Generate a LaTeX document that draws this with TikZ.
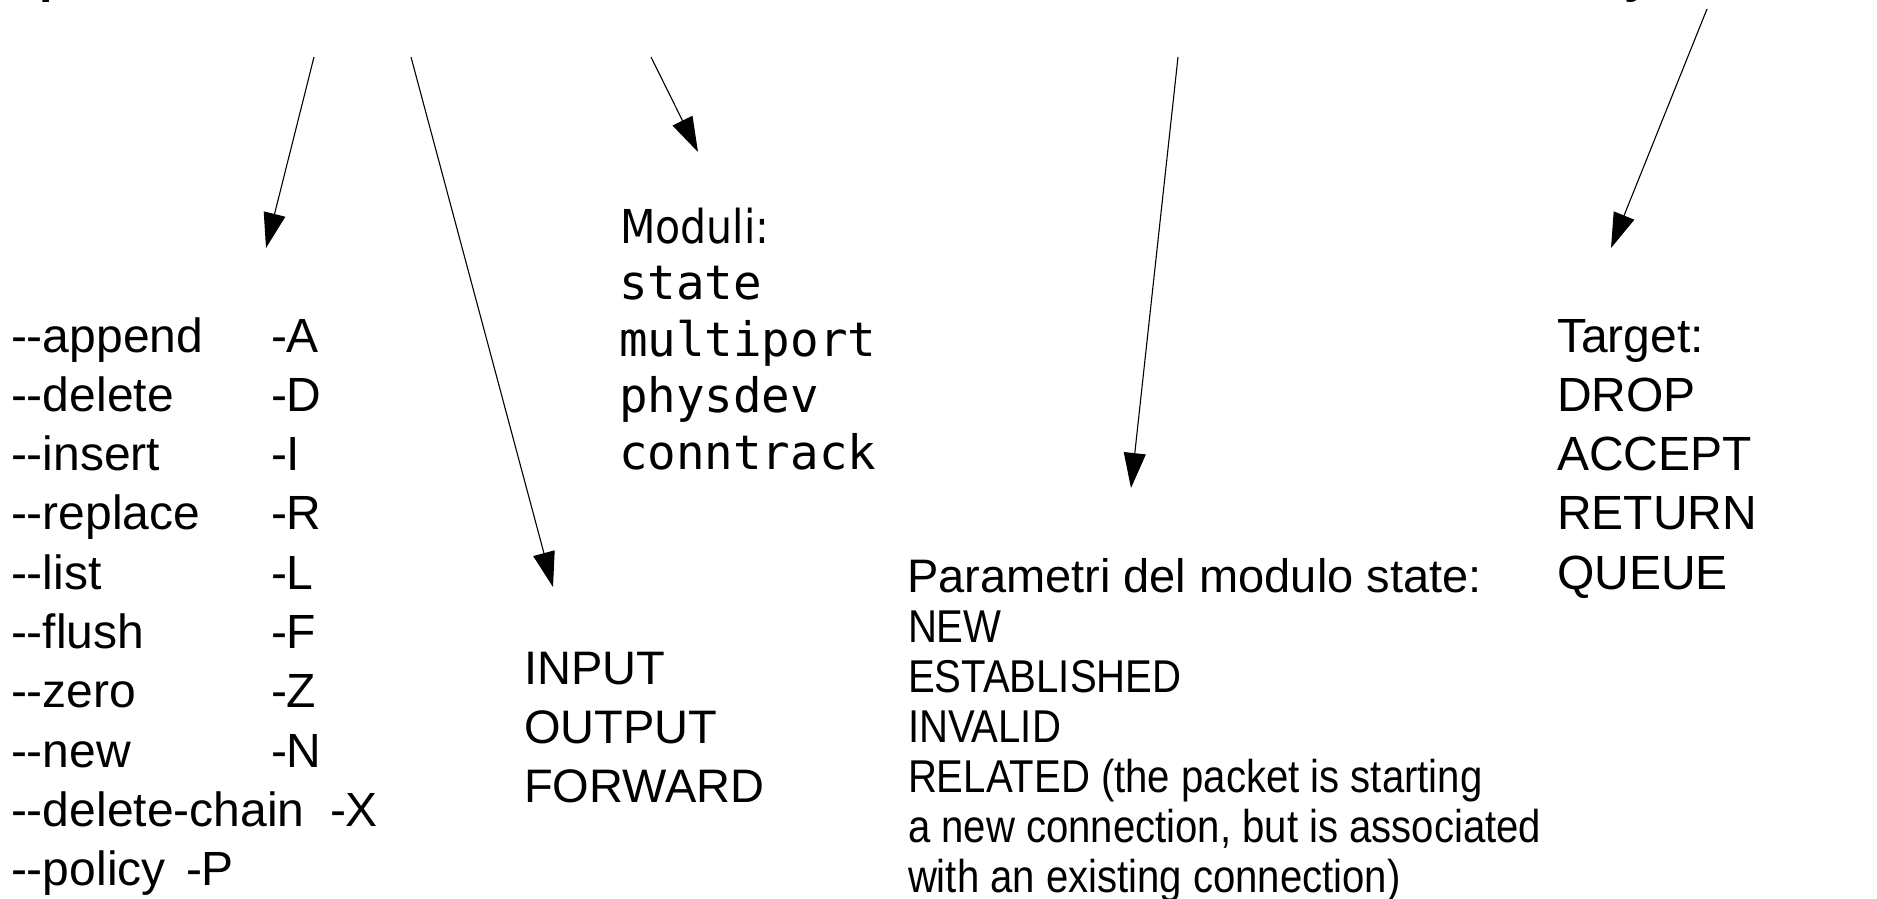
\documentclass[tikz,border=0pt]{standalone}
\usepackage{fontspec}
\setmainfont{Liberation Sans}
\newfontfamily\narrowfont{Liberation Sans}[FakeStretch=0.872]
\newfontfamily\modfont{DejaVu Sans}[FakeStretch=0.88]
\newfontfamily\djmono{DejaVu Sans Mono}
\usetikzlibrary{arrows.meta}
% two hyphens without the en-dash ligature
\newcommand\dd{-\kern0pt-}
\begin{document}
\begin{tikzpicture}[x=1pt,y=-1pt,
  txt/.style={anchor=base west, inner sep=0pt, outer sep=0pt},
  big/.style={txt, font=\fontsize{48}{58}\selectfont},
  mid/.style={txt, font=\fontsize{47}{57}\selectfont},
  small/.style={txt, font=\narrowfont\fontsize{46}{50}\selectfont},
  modhead/.style={txt, font=\modfont\fontsize{46.7}{56}\selectfont},
  modlist/.style={txt, font=\djmono\fontsize{47.5}{56}\selectfont},
  ptr/.style={-{Triangle[length=35pt,width=22pt]}, line width=1.1pt}]
\useasboundingbox (0,0) rectangle (1877,899);
\fill[white] (0,0) rectangle (1877,899);

% heading line above the frame, only its descenders reach the page
\begin{scope}
  \clip (0,0) rectangle (1877,899);
  \node[big, font=\bfseries\fontsize{48}{58}\selectfont] (headp) at (39.5,-7.3) {p};
  \node[big, font=\bfseries\fontsize{48}{58}\selectfont] (heady) at (1624,-7.3) {y};
\end{scope}

% commands: long and short forms
\node[big] (o1)  at (11,352.0) {\dd append};
\node[big] (o2)  at (11,411.3) {\dd delete};
\node[big] (o3)  at (11,470.6) {\dd insert};
\node[big] (o4)  at (11,529.9) {\dd replace};
\node[big] (o5)  at (11,589.2) {\dd list};
\node[big] (o6)  at (11,648.5) {\dd flush};
\node[big] (o7)  at (11,707.8) {\dd zero};
\node[big] (o8)  at (11,767.1) {\dd new};
\node[big] (o9)  at (11,826.4) {\dd delete-chain};
\node[big] (o10) at (11,885.7) {\dd policy};
\node[big] (s1)  at (271,352.0) {-A};
\node[big] (s2)  at (271,411.3) {-D};
\node[big] (s3)  at (271,470.6) {-I};
\node[big] (s4)  at (271,529.9) {-R};
\node[big] (s5)  at (271,589.2) {-L};
\node[big] (s6)  at (271,648.5) {-F};
\node[big] (s7)  at (271,707.8) {-Z};
\node[big] (s8)  at (271,767.1) {-N};
\node[big] (s9)  at (330,826.4) {-X};
\node[big] (s10) at (186,885.7) {-P};

% chains
\node[mid] (c1) at (524,684) {INPUT};
\node[mid] (c2) at (524,743) {OUTPUT};
\node[mid] (c3) at (524,802) {FORWARD};

% match modules
\node[modhead] (m0) at (620,243) {Moduli:};
\node[modlist] (m1) at (619,299.5) {state};
\node[modlist] (m2) at (619,356) {multiport};
\node[modlist] (m3) at (619,412.5) {physdev};
\node[modlist] (m4) at (619,469) {conntrack};

% state module parameters
\node[mid]   (p0) at (907,592) {Parametri del modulo state:};
\node[small] (p1) at (908,642) {NEW};
\node[small] (p2) at (908,692) {ESTABLISHED};
\node[small] (p3) at (908,742) {INVALID};
\node[small] (p4) at (908,792) {RELATED (the packet is starting};
\node[small] (p5) at (908,842) {a new connection, but is associated};
\node[small] (p6) at (908,892) {with an existing connection)};

% targets
\node[big] (t0) at (1557,352.0) {Target:};
\node[big] (t1) at (1557,411.3) {DROP};
\node[big] (t2) at (1557,470.6) {ACCEPT};
\node[big] (t3) at (1557,529.9) {RETURN};
\node[big] (t4) at (1557,589.2) {QUEUE};

% pointers from the command line down to each group
\coordinate (a1s) at (314,57);   \coordinate (a1e) at (266,248);
\coordinate (a2s) at (411,57);   \coordinate (a2e) at (553,587);
\coordinate (a3s) at (651,57);   \coordinate (a3e) at (698,152);
\coordinate (a4s) at (1178,57);  \coordinate (a4e) at (1131,488);
\coordinate (a5s) at (1707,9);   \coordinate (a5e) at (1611,248);
\draw[ptr] (a1s) -- (a1e);
\draw[ptr] (a2s) -- (a2e);
\draw[ptr] (a3s) -- (a3e);
\draw[ptr] (a4s) -- (a4e);
\draw[ptr] (a5s) -- (a5e);
\end{tikzpicture}
\end{document}
